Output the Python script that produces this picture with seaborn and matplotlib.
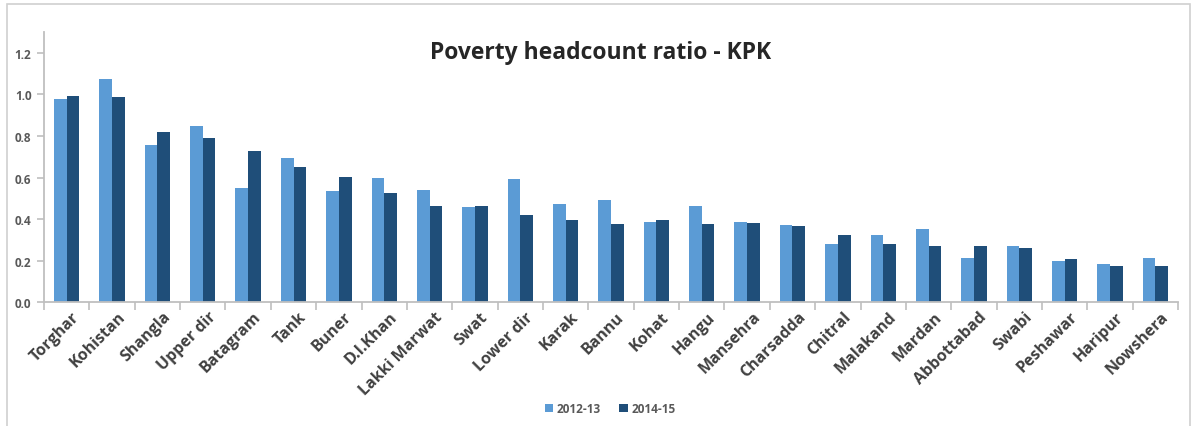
import matplotlib
matplotlib.use("Agg")
import matplotlib.pyplot as plt
import matplotlib.transforms as mtransforms
from matplotlib.patches import Rectangle
from matplotlib.ticker import FixedLocator, MultipleLocator
import pandas as pd
import seaborn as sns

districts = ["Torghar", "Kohistan", "Shangla", "Upper dir", "Batagram", "Tank", "Buner",
             "D.I.Khan", "Lakki Marwat", "Swat", "Lower dir", "Karak", "Bannu", "Kohat",
             "Hangu", "Mansehra", "Charsadda", "Chitral", "Malakand", "Mardan",
             "Abbottabad", "Swabi", "Peshawar", "Haripur", "Nowshera"]
ratio_2012_13 = [0.978, 1.074, 0.755, 0.847, 0.552, 0.692, 0.533, 0.596, 0.538, 0.456,
                 0.591, 0.475, 0.494, 0.388, 0.465, 0.388, 0.374, 0.282, 0.325, 0.354,
                 0.214, 0.272, 0.200, 0.185, 0.214]
ratio_2014_15 = [0.992, 0.987, 0.818, 0.789, 0.726, 0.649, 0.605, 0.528, 0.461, 0.465,
                 0.422, 0.398, 0.378, 0.398, 0.378, 0.383, 0.369, 0.325, 0.282, 0.272,
                 0.272, 0.262, 0.209, 0.175, 0.175]
periods = ["2012-13", "2014-15"]
colors = ["#5B9BD5", "#1F4E79"]

df = pd.DataFrame({
    "District": districts * 2,
    "Period": [periods[0]] * len(districts) + [periods[1]] * len(districts),
    "Ratio": ratio_2012_13 + ratio_2014_15,
})

sns.set_theme(style="white")
plt.rcParams["font.family"] = ["Open Sans", "DejaVu Sans"]

fig = plt.figure(figsize=(11.96, 4.27), dpi=100)
ax = fig.add_axes([0.0368, 0.2897, 0.9482, 0.633])

sns.barplot(data=df, x="District", y="Ratio", hue="Period", order=districts,
            hue_order=periods, palette=colors, width=0.56, saturation=1,
            linewidth=0, edgecolor="none", ax=ax, legend=True)

ax.set_xlim(-0.5, len(districts) - 0.5)
ax.set_ylim(0, 1.3)
ax.yaxis.set_major_locator(FixedLocator([0, 0.2, 0.4, 0.6, 0.8, 1.0, 1.2]))
ax.set_yticklabels([f"{v:.1f}" for v in [0, 0.2, 0.4, 0.6, 0.8, 1.0, 1.2]])
ax.set_xlabel("")
ax.set_ylabel("")

for s in ["top", "right"]:
    ax.spines[s].set_visible(False)
for s in ["left", "bottom"]:
    ax.spines[s].set_color("#bfbfbf")
    ax.spines[s].set_linewidth(1.3)

ax.tick_params(axis="y", which="major", left=True, length=5, width=1.2, color="#bfbfbf",
               labelsize=8.5, labelcolor="#595959", pad=4)
ax.tick_params(axis="x", which="major", bottom=False, length=0, pad=3)
ax.xaxis.set_minor_locator(MultipleLocator(1, offset=0.5))
ax.tick_params(axis="x", which="minor", bottom=True, length=6, width=1.2, color="#bfbfbf",
               direction="out")
for lab in ax.get_yticklabels():
    lab.set_fontweight("bold")
shift = mtransforms.ScaledTranslation(5 / 100, -2 / 100, fig.dpi_scale_trans)
for lab in ax.get_xticklabels():
    lab.set_rotation(45)
    lab.set_ha("right")
    lab.set_rotation_mode("anchor")
    lab.set_fontsize(11.5)
    lab.set_fontweight("bold")
    lab.set_color("#404040")
    lab.set_transform(lab.get_transform() + shift)

ax.grid(False)

fig.text(0.502, 0.875, "Poverty headcount ratio - KPK", ha="center", va="center",
         fontsize=16.5, fontweight="bold", color="#262626")

handles, labels = ax.get_legend_handles_labels()
ax.legend_.remove()
fig.legend(handles, labels, loc="center", bbox_to_anchor=(0.51, 0.04), ncol=2,
           frameon=False, handlelength=0.7, handleheight=0.7, handletextpad=0.3,
           columnspacing=1.6, prop={"size": 8.5, "weight": "bold"}, labelcolor="#595959")

fig.patches.append(Rectangle((0.006, -0.05), 0.989, 1.038, transform=fig.transFigure,
                             fill=False, edgecolor="#d0d0d0", linewidth=1.2))

fig.savefig("out.png", dpi=100, facecolor="white")
